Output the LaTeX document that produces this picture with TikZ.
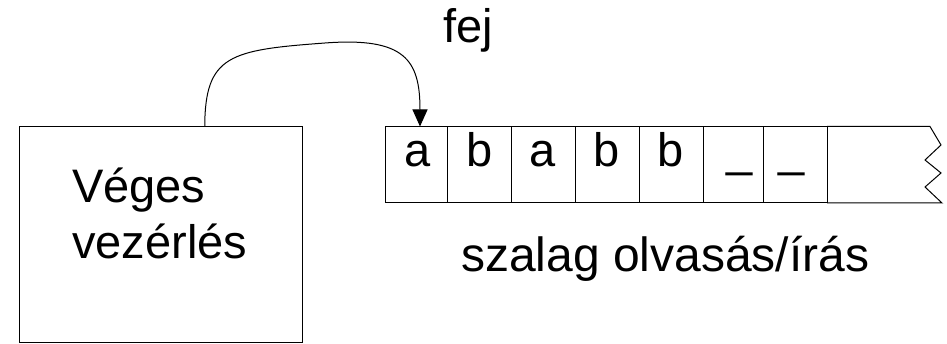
\documentclass[tikz,border=0pt]{standalone}
\usepackage{fontspec}
\setmainfont{Liberation Sans}
\usetikzlibrary{arrows.meta}
\usetikzlibrary{positioning}

\begin{document}
\begin{tikzpicture}[x=1pt,y=-1pt,
        cell/.style={draw,line width=1pt,minimum height=76.5pt,inner sep=0pt,outer sep=0pt},
        sym/.style={font=\fontsize{47}{56}\selectfont,inner sep=0pt,anchor=base},
        label/.style={font=\fontsize{47}{56}\selectfont,inner sep=0pt},
    ]
        \useasboundingbox (0,0) rectangle (947,344);
        % finite control
        \node[draw,line width=1pt,inner sep=0pt,outer sep=0pt,
            minimum width=282.5pt,minimum height=215.5pt,anchor=north west] (ctrl) at (19.5,126.5) {};
        \node[label,align=left,anchor=base west] (ctrltext) at (72,259) {Véges\\vezérlés};
        % tape cells
        \foreach \x/\w/\s/\t [count=\i] in {385/62/a/418, 447/64/b/480, 511/64/a/543,
                575/64/b/607, 639/64/b/671, 703/60/\_/740, 763/64/\_/792} {
            \node[cell,minimum width=\w pt,anchor=north west] (c\i) at (\x,126.5) {};
            \node[sym] (s\i) at (\t,167) {\s};
        }
        \draw[line width=1pt] (c7.north east) -- (930,126.5) -- (941,145) -- (925,160)
            -- (941,173) -- (925,187) -- (942,203) -- (c7.south east);
        % labels
        \node[label,anchor=base west] (fej) at (443,43) {fej};
        \node[label,font=\fontsize{48}{57}\selectfont,anchor=base west] (tapelabel) at (461,272) {szalag olvasás/írás};
        % head
        \coordinate (headfrom) at ([xshift=44pt]ctrl.north);
        \draw[line width=1pt,-{Triangle[length=17pt,width=15pt]}] (headfrom)
            .. controls (205,55) and (230,50) .. (325,43)
            .. controls (405,37) and (420,60) .. ([xshift=4pt]c1.north);
    \end{tikzpicture}
\end{document}
